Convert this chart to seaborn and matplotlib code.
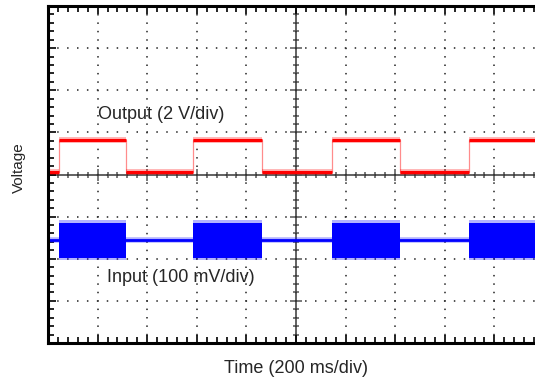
import numpy as np
import pandas as pd
import matplotlib
matplotlib.use("Agg")
import matplotlib.pyplot as plt
from matplotlib.ticker import MultipleLocator
import seaborn as sns

# scope screen: 10 div x 200 ms, 8 div vertically
t_span_ms = 2000
# Output (2 V/div): square wave edges in ms, levels in divisions
out_rise_ms = [45.6, 585.9, 1144.0, 1698.8]
out_fall_ms = [314.5, 862.9, 1419.4]
out_low_div = 0.06
out_high_div = 0.81
# Input (100 mV/div): burst windows in ms
in_burst_start_ms = [45.6, 585.9, 1144.0, 1698.8]
in_burst_end_ms = [314.5, 862.9, 1419.4, 2000.0]
in_center_div = -1.56
in_burst_half_div = 0.42

sns.set_style("white")
plt.rcParams["font.family"] = ["Liberation Sans", "DejaVu Sans"]

fig = plt.figure(figsize=(5.35, 3.79), dpi=100)
pos = [48 / 535, 36 / 379, 496 / 535, 337 / 379]

# center crosshair axes (drawn underneath)
axc = fig.add_axes(pos)
ax = fig.add_axes(pos, sharex=axc, sharey=axc)
ax.set_facecolor("none")

ax.set_xlim(0, t_span_ms)
ax.set_ylim(-4, 4)
for a in (ax, axc):
    a.xaxis.set_major_locator(MultipleLocator(200))
    a.xaxis.set_minor_locator(MultipleLocator(40))
    a.yaxis.set_major_locator(MultipleLocator(1))
    a.yaxis.set_minor_locator(MultipleLocator(0.2))

# crosshair with in/out ticks
for s in ("top", "right"):
    axc.spines[s].set_visible(False)
axc.spines["left"].set_position(("data", t_span_ms / 2))
axc.spines["bottom"].set_position(("data", 0))
for s in ("left", "bottom"):
    axc.spines[s].set_color("#555555")
    axc.spines[s].set_linewidth(1.3)
axc.tick_params(which="both", direction="inout", color="#555555", width=1.1,
                bottom=True, left=True, top=False, right=False,
                labelbottom=False, labelleft=False)
axc.tick_params(which="major", length=8)
axc.tick_params(which="minor", length=5)

# dotted graticule
ax.xaxis.grid(True, which="major", color="#333333", lw=1.2,
              linestyle=(0.45, (0.9, 4.15)))
ax.yaxis.grid(True, which="major", color="#333333", lw=1.2,
              linestyle=(0.45, (0.9, 5.05)))

# output trace
edges = sorted(out_rise_ms + out_fall_ms)
bounds = [0] + edges + [t_span_ms]
levels = [out_low_div if i % 2 == 0 else out_high_div for i in range(len(bounds) - 1)]
xs, ys = [], []
for i, lv in enumerate(levels):
    xs += [bounds[i], bounds[i + 1]]
    ys += [lv, lv]
df_out = pd.DataFrame({"t": xs, "v": ys})
sns.lineplot(data=df_out, x="t", y="v", sort=False, estimator=None,
             color="#ff0000", lw=0.9, alpha=0.45, ax=ax)
ax.hlines(levels, bounds[:-1], bounds[1:], color="#ff0000", lw=4.2, alpha=0.3)
ax.hlines(levels, bounds[:-1], bounds[1:], color="#ff0000", lw=2.2)

# input trace
df_in = pd.DataFrame({"t": [0, t_span_ms], "v": [in_center_div] * 2})
sns.lineplot(data=df_in, x="t", y="v", color="#0000ff", lw=2.0, ax=ax)
ax.hlines(in_center_div, 0, t_span_ms, color="#0000ff", lw=4.0, alpha=0.3)
for s, e in zip(in_burst_start_ms, in_burst_end_ms):
    ax.fill_between([s, e], in_center_div - in_burst_half_div - 0.06,
                    in_center_div + in_burst_half_div + 0.06,
                    color="#0000ff", alpha=0.3, lw=0)
    ax.fill_between([s, e], in_center_div - in_burst_half_div,
                    in_center_div + in_burst_half_div, color="#0000ff", lw=0)

ax.set_xlim(0, t_span_ms)
ax.set_ylim(-4, 4)

ax.text(200, 1.43, "Output (2 V/div)", fontsize=13, ha="left", va="center")
ax.text(239, -2.44, "Input (100 mV/div)", fontsize=13, ha="left", va="center")

# outer frame
for s in ax.spines.values():
    s.set_linewidth(2.2)
    s.set_color("black")
ax.tick_params(which="both", direction="in", top=True, right=True, bottom=True, left=True,
               labelbottom=False, labelleft=False, color="black", width=1.2)
ax.tick_params(which="major", length=6)
ax.tick_params(which="minor", length=4)

ax.set_xlabel("Time (200 ms/div)", fontsize=13)
ax.set_ylabel("Voltage", fontsize=11)
ax.xaxis.set_label_coords(0.5, -0.05)
ax.yaxis.set_label_coords(-0.045, 0.52)

fig.savefig("out.png", dpi=100)
plt.close(fig)
